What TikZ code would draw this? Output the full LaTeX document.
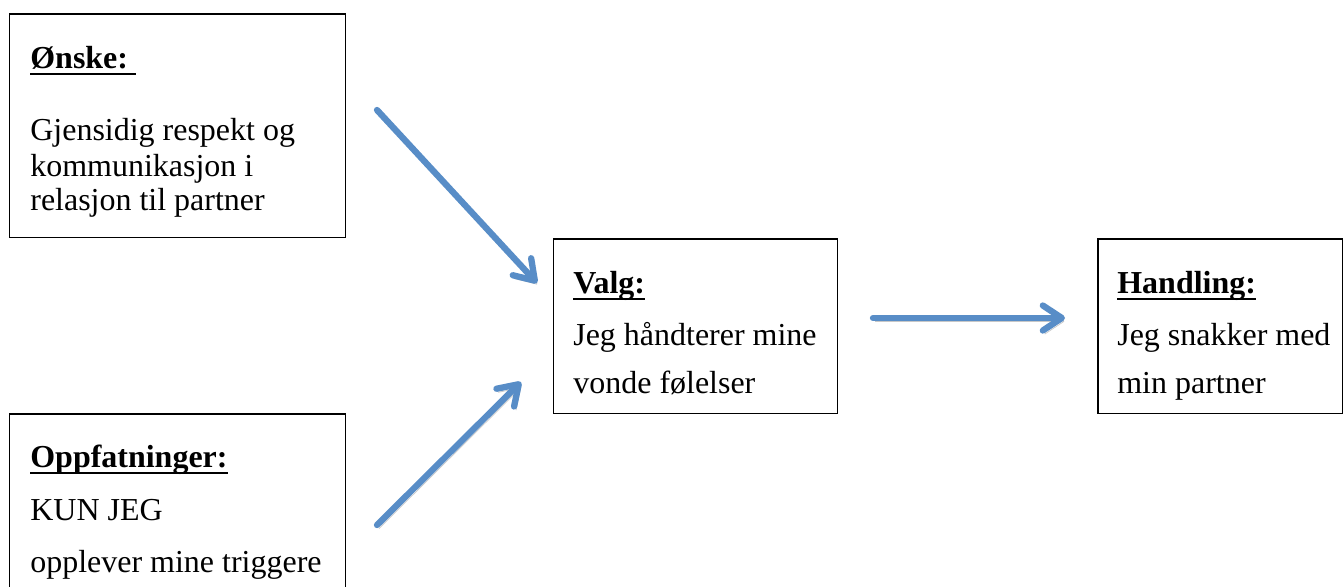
\documentclass[tikz,border=0pt]{standalone}
\usepackage{fontspec}
\setmainfont{Liberation Serif}
\usepackage{tikz}
\usetikzlibrary{arrows.meta}
\definecolor{flowblue}{RGB}{88,141,199}
% bold heading with a Word-like underline through the descenders
\newcommand{\boxhead}[1]{\setbox0=\hbox{\bfseries #1}\rlap{\rule[-3.9pt]{\wd0}{1pt}}\box0}

\begin{document}
\begin{tikzpicture}[x=0.02cm, y=-0.02cm,
  every node/.style={font=\fontsize{18.2}{22}\selectfont},
  panel/.style={draw, line width=0.85pt, anchor=north west, inner sep=0pt},
  txt/.style={anchor=base west, inner sep=0pt},
  flow/.style={draw=flowblue, line width=3.6pt, line cap=round,
    -{Straight Barb[length=0.38cm, width=0.5cm, line cap=round, line join=round]},
    preaction={draw=black, opacity=0.22, transform canvas={shift={(2,3.5)}}}}
]
\useasboundingbox (0,0) rectangle (1343,586);

%========== left: wish and beliefs ==========
\node[panel, minimum width=6.72cm, minimum height=4.48cm] (onske) at (9,13) {};
\node[txt] (onskehead) at (30,68) {\boxhead{Ønske:\ }};
\node[txt] (onske1) at (30,140) {Gjensidig respekt og};
\node[txt] (onske2) at (30,176) {kommunikasjon i};
\node[txt] (onske3) at (30,210) {relasjon til partner};

\node[panel, minimum width=6.72cm, minimum height=3.8cm] (oppf) at (9,413) {};
\node[txt] (oppfhead) at (30,467) {\boxhead{Oppfatninger:}};
\node[txt] (oppf1) at (30,520) {KUN JEG};
\node[txt] (oppf2) at (30,572) {opplever mine triggere};

%========== middle: choice ==========
\node[panel, minimum width=5.68cm, minimum height=3.5cm] (valg) at (553,238) {};
\node[txt] (valghead) at (573,293) {\boxhead{Valg:}};
\node[txt] (valg1) at (573,345) {Jeg håndterer mine};
\node[txt] (valg2) at (573,393) {vonde følelser};

%========== right: action ==========
\node[panel, minimum width=4.9cm, minimum height=3.5cm] (handl) at (1097,238) {};
\node[txt] (handlhead) at (1117,293) {\boxhead{Handling:}};
\node[txt] (handl1) at (1117,345) {Jeg snakker med};
\node[txt] (handl2) at (1117,393) {min partner};

%========== arrows ==========
\coordinate (in1) at (377,110);
\coordinate (out1) at (537,283);
\coordinate (in2) at (377,525);
\coordinate (out2) at (521,382);
\coordinate (in3) at (873,318);
\coordinate (out3) at (1065,318);

\draw[flow] (in1) -- (out1);
\draw[flow] (in2) -- (out2);
\draw[flow] (in3) -- (out3);

\end{tikzpicture}
\end{document}
